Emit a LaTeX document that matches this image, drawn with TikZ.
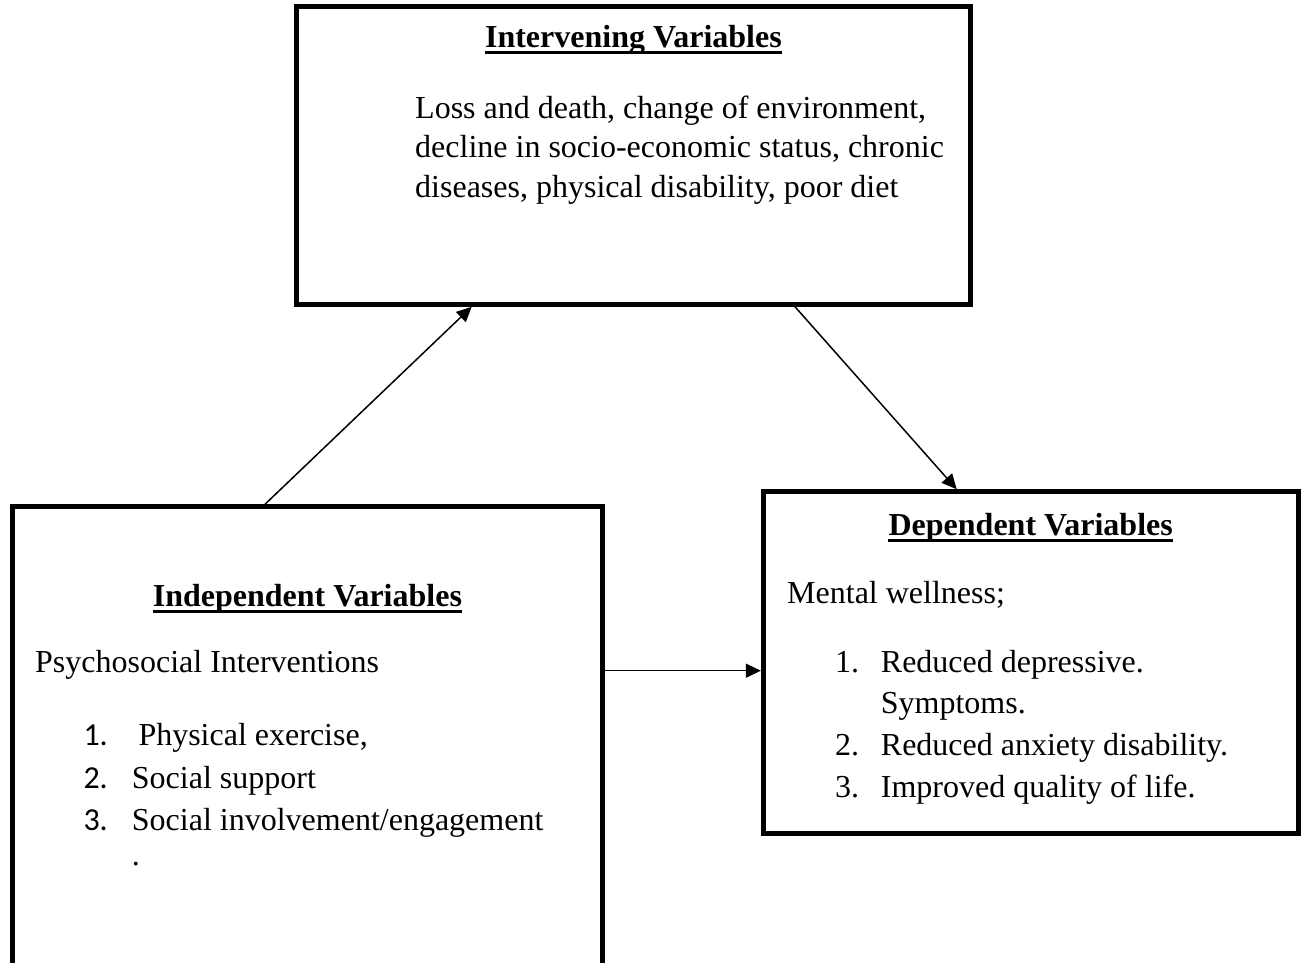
\documentclass[tikz,border=0pt]{standalone}
\usepackage{fontspec}
\setmainfont{Liberation Serif}
\newfontfamily\calibfont{Carlito}
\usetikzlibrary{arrows.meta}
\begin{document}
\begin{tikzpicture}[x=1pt,y=-1pt,
  box/.style={draw, line width=5pt, rectangle, inner sep=0pt},
  txt/.style={anchor=base west, inner sep=0pt, font=\fontsize{32}{38}\selectfont},
  ttl/.style={anchor=base, inner sep=0pt, font=\fontsize{32}{38}\selectfont\bfseries},
  num/.style={anchor=base west, inner sep=0pt, font=\fontsize{32}{38}\selectfont\calibfont},
  arr/.style={line width=1.5pt, -{Triangle[length=15pt,width=14pt]}},
  uline/.style={line width=3pt}]
\useasboundingbox (0,0) rectangle (1301,962);
\fill[white] (0,0) rectangle (1301,962);
\clip (0,0) rectangle (1301,962);

% boxes
\node[box, minimum width=673.3pt, minimum height=297.5pt] (interv) at (633.4,155.5) {};
\node[box, minimum width=590.7pt, minimum height=493.3pt] (indep) at (307.4,753.4) {};
\node[box, minimum width=534.7pt, minimum height=341.3pt] (dep) at (1030.7,662.4) {};

% intervening
\node[ttl] (t1) at (633.4,47.3) {Intervening Variables};
\draw[uline] ([yshift=-5pt]t1.base west) -- ([yshift=-5pt]t1.base east);
\node[txt] (i1) at (415,118) {Loss and death, change of environment,};
\node[txt] (i2) at (415,157.5) {decline in socio-economic status, chronic};
\node[txt] (i3) at (415,197) {diseases, physical disability, poor diet};

% independent
\node[ttl] (t2) at (307.4,606) {Independent Variables};
\draw[uline] ([yshift=-5pt]t2.base west) -- ([yshift=-5pt]t2.base east);
\node[txt] (p0) at (35,672) {Psychosocial Interventions};
\node[num] (n1) at (83.3,745) {1.};
\node[txt] (p1) at (138.3,745) {Physical exercise,};
\node[num] (n2) at (83.3,788) {2.};
\node[txt] (p2) at (131.7,788) {Social support};
\node[num] (n3) at (83.3,830) {3.};
\node[txt] (p3) at (131.7,830) {Social involvement/engagement};
\node[txt] (p4) at (131.7,865) {.};

% dependent
\node[ttl] (t3) at (1030.7,535) {Dependent Variables};
\draw[uline] ([yshift=-5pt]t3.base west) -- ([yshift=-5pt]t3.base east);
\node[txt] (d0) at (787,603.3) {Mental wellness;};
\node[txt] (m1) at (835,672) {1.};
\node[txt] (d1) at (880.7,672) {Reduced depressive.};
\node[txt] (d1b) at (880.7,713.5) {Symptoms.};
\node[txt] (m2) at (835,755) {2.};
\node[txt] (d2) at (880.7,755) {Reduced anxiety disability.};
\node[txt] (m3) at (835,797) {3.};
\node[txt] (d3) at (880.7,797) {Improved quality of life.};

% connectors
\draw[arr] ([xshift=-42.4pt]indep.north) -- ([xshift=-161.7pt]interv.south);
\draw[arr] ([xshift=161.6pt]interv.south) -- ([xshift=-74pt]dep.north);
\coordinate (a3) at ([yshift=-8.3pt]dep.west);
\draw[arr] (indep.east |- a3) -- (a3);
\end{tikzpicture}
\end{document}
